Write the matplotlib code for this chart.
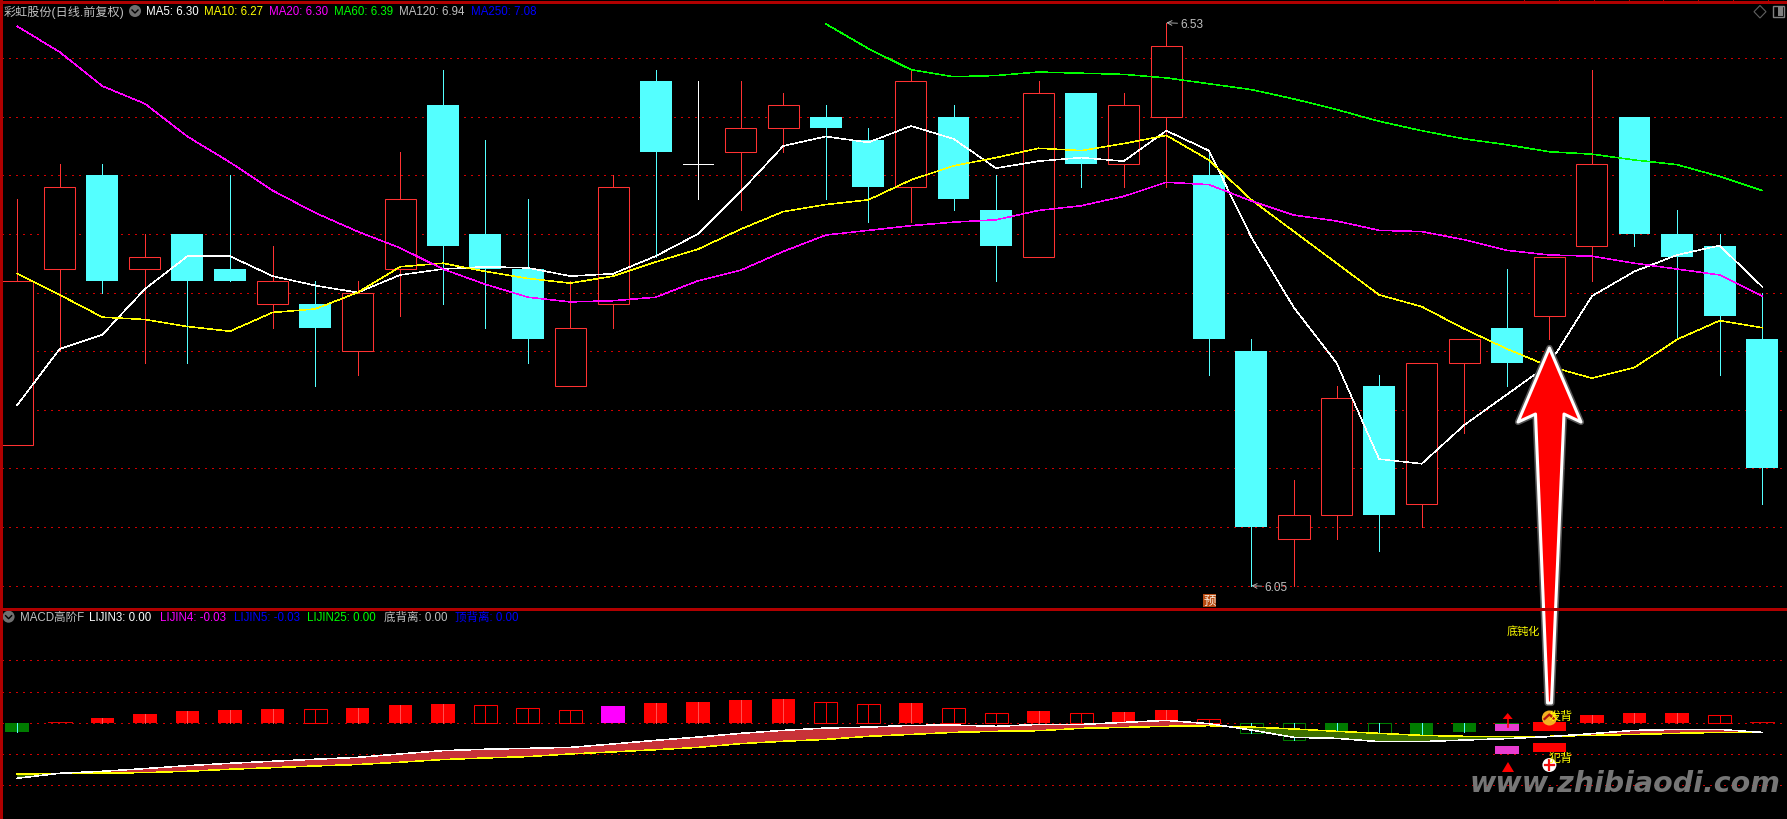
"""Daily candlestick chart with MA lines over a MACD sub-panel, black terminal style."""

import matplotlib
matplotlib.use("Agg")
import matplotlib.pyplot as plt
import numpy as np
from matplotlib.patches import Circle, Polygon, Rectangle

plt.rcParams["font.family"] = ["Liberation Sans", "Noto Sans CJK SC", "DejaVu Sans"]

W, H = 1787, 820
SPLIT_Y = 609.5

# Candles, one per trading day.
OPENS = [6.17, 6.32, 6.40, 6.32, 6.35, 6.32, 6.29, 6.29, 6.25, 6.32, 6.46, 6.35, 6.32, 6.22,
         6.29, 6.48, 6.41, 6.42, 6.44, 6.45, 6.43, 6.39, 6.45, 6.37, 6.33, 6.47, 6.41, 6.45,
         6.40, 6.25, 6.09, 6.11, 6.22, 6.12, 6.24, 6.27, 6.28, 6.34, 6.45, 6.35, 6.34, 6.26]
CLOSES = [6.31, 6.39, 6.31, 6.33, 6.31, 6.31, 6.31, 6.27, 6.30, 6.38, 6.34, 6.32, 6.26, 6.27,
          6.39, 6.42, 6.41, 6.44, 6.46, 6.44, 6.39, 6.48, 6.38, 6.34, 6.47, 6.41, 6.46, 6.51,
          6.26, 6.10, 6.11, 6.21, 6.11, 6.24, 6.26, 6.24, 6.33, 6.41, 6.35, 6.33, 6.28, 6.15]
HIGHS = [6.38, 6.41, 6.41, 6.35, 6.35, 6.40, 6.34, 6.31, 6.31, 6.42, 6.49, 6.43, 6.38, 6.31,
         6.40, 6.49, 6.48, 6.48, 6.47, 6.46, 6.44, 6.49, 6.46, 6.40, 6.48, 6.47, 6.47, 6.53,
         6.42, 6.26, 6.14, 6.22, 6.23, 6.24, 6.26, 6.32, 6.33, 6.49, 6.45, 6.37, 6.35, 6.30]
LOWS = [6.17, 6.25, 6.30, 6.24, 6.24, 6.31, 6.27, 6.22, 6.23, 6.28, 6.29, 6.27, 6.24, 6.22,
        6.27, 6.33, 6.38, 6.37, 6.42, 6.38, 6.36, 6.36, 6.37, 6.31, 6.33, 6.39, 6.39, 6.39,
        6.23, 6.05, 6.05, 6.09, 6.08, 6.10, 6.18, 6.22, 6.26, 6.31, 6.34, 6.26, 6.23, 6.12]

MA5 = [6.204, 6.252, 6.264, 6.303, 6.331, 6.331, 6.314, 6.306, 6.300, 6.315, 6.320, 6.322,
       6.321, 6.314, 6.316, 6.331, 6.350, 6.386, 6.425, 6.433, 6.428, 6.442, 6.431, 6.406,
       6.412, 6.415, 6.412, 6.438, 6.421, 6.347, 6.287, 6.240, 6.158, 6.154, 6.187, 6.213,
       6.239, 6.297, 6.318, 6.332, 6.340, 6.305]
MA10 = [6.316, 6.298, 6.279, 6.277, 6.271, 6.267, 6.283, 6.286, 6.300, 6.322, 6.325, 6.318,
        6.312, 6.308, 6.314, 6.326, 6.337, 6.354, 6.369, 6.375, 6.379, 6.396, 6.408, 6.415,
        6.423, 6.421, 6.427, 6.434, 6.413, 6.379, 6.352, 6.325, 6.298, 6.288, 6.269, 6.252,
        6.237, 6.227, 6.236, 6.260, 6.276, 6.270]
MA20 = [6.527, 6.505, 6.476, 6.461, 6.433, 6.411, 6.387, 6.368, 6.352, 6.338, 6.320, 6.307,
        6.296, 6.292, 6.293, 6.296, 6.310, 6.319, 6.335, 6.349, 6.353, 6.357, 6.360, 6.362,
        6.370, 6.374, 6.382, 6.394, 6.392, 6.378, 6.366, 6.361, 6.353, 6.352, 6.345, 6.336,
        6.332, 6.331, 6.325, 6.320, 6.315, 6.297]
# MA60 only starts at day 19.
MA60_START = 19
MA60 = [6.529, 6.508, 6.490, 6.484, 6.485, 6.488, 6.487, 6.486, 6.483, 6.478, 6.473, 6.465,
        6.456, 6.446, 6.438, 6.431, 6.426, 6.420, 6.418, 6.413, 6.409, 6.399, 6.387]

# MACD panel.
HIST = [-0.0062, 0.0002, 0.0030, 0.0055, 0.0075, 0.0081, 0.0087, 0.0085, 0.0094, 0.0113, 0.0119,
        0.0111, 0.0092, 0.0079, 0.0107, 0.0126, 0.0132, 0.0145, 0.0151, 0.0136, 0.0117, 0.0126,
        0.0092, 0.0060, 0.0075, 0.0060, 0.0068, 0.0081, 0.0023, -0.0066, -0.0109, -0.0098,
        -0.0109, -0.0081, -0.0060, -0.0036, 0.0, 0.0049, 0.0062, 0.0062, 0.0049, 0.0002]
HOLLOW_DAYS = [7, 11, 12, 13, 19, 20, 22, 23, 25, 28, 29, 30, 32, 40]
MAGENTA_DAY = 14
DIF = [-0.0356, -0.0324, -0.0311, -0.0294, -0.0275, -0.0260, -0.0247, -0.0234, -0.0222, -0.0200,
       -0.0179, -0.0170, -0.0164, -0.0158, -0.0136, -0.0113, -0.0092, -0.0068, -0.0049, -0.0034,
       -0.0028, -0.0017, -0.0015, -0.0023, -0.0011, -0.0011, 0.0002, 0.0015, -0.0006, -0.0047,
       -0.0094, -0.0100, -0.0121, -0.0121, -0.0111, -0.0102, -0.0089, -0.0070, -0.0049, -0.0043,
       -0.0043, -0.0062]
DEA = [-0.0330, -0.0324, -0.0322, -0.0320, -0.0311, -0.0298, -0.0288, -0.0277, -0.0268, -0.0253,
       -0.0236, -0.0226, -0.0217, -0.0200, -0.0187, -0.0173, -0.0158, -0.0134, -0.0119, -0.0107,
       -0.0087, -0.0075, -0.0062, -0.0055, -0.0051, -0.0036, -0.0030, -0.0023, -0.0019, -0.0028,
       -0.0040, -0.0055, -0.0068, -0.0081, -0.0087, -0.0087, -0.0087, -0.0081, -0.0075, -0.0068,
       -0.0062, -0.0062]
# Signal blocks as (day, top, bottom).
MAGENTA_BLOCKS = [(35, -0.0009, -0.0053), (35, -0.0149, -0.0200)]
RED_BLOCKS = [(36, 0.0004, -0.0051), (36, -0.0130, -0.0187)]

PRICE_GRID = [6.05, 6.10, 6.15, 6.20, 6.25, 6.30, 6.35, 6.40, 6.45, 6.50]
MACD_GRID = [-0.04, -0.02, 0.0, 0.02, 0.04]

TOP_LABELS = [("MA5: 6.30", 145.7, "#ffffff"), ("MA10: 6.27", 203.6, "#ffff00"),
              ("MA20: 6.30", 268.6, "#ff00ff"), ("MA60: 6.39", 333.6, "#00ff00"),
              ("MA120: 6.94", 399.0, "#c0c0c0"), ("MA250: 7.08", 470.7, "#0000ff")]
SUB_LABELS = [("MACD高阶F", 19.6, "#c0c0c0"), ("LIJIN3: 0.00", 89.3, "#ffffff"),
              ("LIJIN4: -0.03", 159.6, "#ff00ff"), ("LIJIN5: -0.03", 234.0, "#0000ff"),
              ("LIJIN25: 0.00", 307.0, "#00ff00"), ("底背离: 0.00", 384.0, "#c0c0c0"),
              ("顶背离: 0.00", 455.0, "#0000ff")]

UP = "#ff3232"
DOWN = "#54ffff"
GRID = "#d00000"
FRAME = "#b00000"
GREY = "#c0c0c0"
LW = 0.5
MA_LW = 0.38
BOX_LW = 0.75
LABEL_SIZE = 8.3
DAY_W = 42.56
X0 = 17.2


def _panel_axes(fig, top_px, bottom_px, ylim):
    ax = fig.add_axes([0, 1 - bottom_px / H, 1, (bottom_px - top_px) / H])
    ax.set_facecolor("black")
    ax.set_xlim(-X0 / DAY_W, (W - X0) / DAY_W)
    ax.set_ylim(*ylim)
    ax.axis("off")
    return ax


def _grid(ax, levels):
    for level in levels:
        ax.plot([-0.36, 41.6], [level, level], color=GRID, lw=0.72,
                ls=(0, (1.3, 5.7)), antialiased=False, zorder=1)


def _candles(ax):
    for i, (o, c, hi, lo) in enumerate(zip(OPENS, CLOSES, HIGHS, LOWS)):
        if o == c:
            ax.vlines(i, lo, hi, color="white", lw=LW, antialiased=False, zorder=2)
            ax.hlines(c, i - 0.35, i + 0.35, color="white", lw=LW, antialiased=False, zorder=3)
        elif c > o:
            ax.vlines(i, lo, hi, color=UP, lw=LW, antialiased=False, zorder=2)
            ax.bar(i, c - o, 0.73, o, facecolor="black", edgecolor=UP, lw=BOX_LW, zorder=3)
        else:
            ax.vlines(i, lo, hi, color=DOWN, lw=LW, antialiased=False, zorder=2)
            ax.bar(i, o - c, 0.75, c, color=DOWN, lw=0, zorder=3)


def _macd(ax, days):
    for i, v in enumerate(HIST):
        if i == 36:
            continue
        if i == MAGENTA_DAY:
            ax.bar(i, v, 0.55, color="#ff00ff", lw=0, zorder=2)
            continue
        main = "#ff0000" if v > 0 else "#007c00"
        wick = "#ff5050" if v > 0 else DOWN
        if abs(v) <= 0.001:
            ax.hlines(0.0002, i - 0.28, i + 0.28, color="#e00000", lw=LW, antialiased=False, zorder=3)
            continue
        if i in HOLLOW_DAYS:
            ax.bar(i, v, 0.54, facecolor="black", edgecolor=main, lw=BOX_LW, zorder=2)
            wick = main if v > 0 else DOWN
        else:
            ax.bar(i, v, 0.55, color=main, lw=0, zorder=2)
        ax.vlines(i, 0, v, color=wick, lw=LW, antialiased=False, zorder=3)

    dif, dea = np.array(DIF), np.array(DEA)
    ax.fill_between(days, dif, dea, where=dif >= dea, interpolate=True,
                    color="#c83238", lw=0, zorder=4)
    ax.fill_between(days, dif, dea, where=dif < dea, interpolate=True,
                    color="#3f7000", lw=0, zorder=4)
    ax.plot(days, DEA, color="#ffff00", lw=MA_LW, antialiased=False, zorder=5)
    ax.plot(days, DIF, color="#ffffff", lw=MA_LW, antialiased=False, zorder=5)

    for day, top, bottom in MAGENTA_BLOCKS:
        ax.bar(day, top - bottom, 0.55, bottom, color="#e83cd0", lw=0, zorder=6)
    for day, top, bottom in RED_BLOCKS:
        ax.bar(day, top - bottom, 0.78, bottom, color="#ff0000", lw=0, zorder=6)


def _price_marks(ax):
    for day, price, dx in [(27, 6.53, 14), (29, 6.05, 13)]:
        ax.annotate(f"{price:.2f}", xy=(day, price), xytext=(dx, -1), textcoords="offset pixels",
                    color=GREY, fontsize=8.5, va="center", ha="left", zorder=7,
                    arrowprops=dict(arrowstyle="->", color=GREY, lw=0.6, shrinkA=0, shrinkB=0))


def _overlay(fig):
    """Everything drawn on top of the panels, in plain pixel coordinates."""
    ov = fig.add_axes([0, 0, 1, 1])
    ov.set_xlim(0, W)
    ov.set_ylim(H, 0)
    ov.axis("off")
    ov.patch.set_visible(False)

    ov.plot([0, W], [2.5, 2.5], color=FRAME, lw=1.0, antialiased=False)
    ov.plot([0, W], [SPLIT_Y, SPLIT_Y], color=FRAME, lw=0.8, antialiased=False)
    ov.plot([1, 1], [0, H], color=FRAME, lw=0.8, antialiased=False)
    for tick in range(8):
        ov.plot([1523.8 + 34.9 * tick] * 2, [0, 3], color=FRAME, lw=0.5, antialiased=False)

    ov.text(3.5, 12, "彩虹股份(日线.前复权)", color=GREY, fontsize=8.7, va="center")
    for label, x, color in TOP_LABELS:
        ov.text(x, 12, label, color=color, fontsize=LABEL_SIZE, va="center")
    for label, x, color in SUB_LABELS:
        ov.text(x, 617.7, label, color=color, fontsize=LABEL_SIZE, va="center")

    for cx, cy in [(135, 12), (8.6, 617.7)]:
        ov.add_patch(Circle((cx, cy), 6, color="#707070", lw=0))
        ov.plot([cx - 3, cx, cx + 3], [cy - 1, cy + 2, cy - 1], color="black", lw=1)

    ov.add_patch(Polygon([(1760, 6.5), (1766, 12.7), (1760, 19), (1754, 12.7)], fill=False,
                         edgecolor="#606060", lw=0.8))
    ov.add_patch(Rectangle((1773, 7), 11, 11, fill=False, edgecolor="#808080", lw=1))
    ov.add_patch(Rectangle((1778, 8), 5, 9, color="#808080", lw=0))

    ov.add_patch(Rectangle((1203, 595), 13, 13, color="#b84a10", lw=0))
    ov.text(1209.5, 601.5, "预", color="#f5e8d8", fontsize=9, ha="center", va="center")

    # Big hand-drawn style arrow.
    arrow = [(1549.4, 349), (1581, 423), (1564, 415), (1551.5, 704), (1547.5, 704),
             (1535.5, 415), (1518, 423)]
    ov.add_patch(Polygon(arrow, closed=True, facecolor="none", edgecolor="#555555", lw=4.5, joinstyle="round"))
    ov.add_patch(Polygon(arrow, closed=True, facecolor="#ff0000", edgecolor="white", lw=2.2, joinstyle="round"))

    ov.text(1507, 631, "底钝化", color="#ffff00", fontsize=8, va="center")
    ov.text(1548.5, 716.5, "发背", color="#ffff00", fontsize=8.7, va="center")
    ov.text(1548.5, 758.5, "犯背", color="#ffff00", fontsize=8.7, va="center")

    ov.add_patch(Circle((1549.4, 719), 7.5, color="#f4b020", lw=0))
    ov.plot([1544.5, 1549.4, 1554.3], [720, 715.5, 720], color="#b01010", lw=1.6)
    ov.add_patch(Circle((1549.4, 766), 7, color="white", lw=0))
    ov.plot([1544.5, 1554.3], [766, 766], color="#f01010", lw=1.6)
    ov.plot([1549.4, 1549.4], [761, 771], color="#f01010", lw=1.6)

    ov.add_patch(Polygon([(1508, 763), (1514, 773), (1502, 773)], color="#ff0000", lw=0))
    ov.plot([1507.7, 1507.7], [718, 728], color="#ff0000", lw=1.2)
    ov.add_patch(Polygon([(1507.7, 714), (1512.7, 720), (1502.7, 720)], color="#ff0000", lw=0))

    ov.text(1470, 784, "www.zhibiaodi.com", color="#767676", fontsize=20.5, style="italic",
            weight="bold", family="DejaVu Sans", va="center", ha="left")


def main():
    fig = plt.figure(figsize=(W / 100, H / 100), dpi=100, facecolor="black")
    days = np.arange(len(OPENS))

    price_ax = _panel_axes(fig, 3, SPLIT_Y, (6.0306, 6.5477))
    _grid(price_ax, PRICE_GRID)
    _candles(price_ax)
    for series, color in [(MA5, "#ffffff"), (MA10, "#ffff00"), (MA20, "#ff00ff")]:
        price_ax.plot(days, series, color=color, lw=MA_LW, antialiased=False, zorder=4)
    price_ax.plot(days[MA60_START:], MA60, color="#00ff00", lw=MA_LW, antialiased=False, zorder=4)
    _price_marks(price_ax)

    macd_ax = _panel_axes(fig, SPLIT_Y, H, (-0.0617, 0.0732))
    _grid(macd_ax, MACD_GRID)
    _macd(macd_ax, days)

    _overlay(fig)
    fig.savefig("out.png", dpi=100, facecolor="black")


if __name__ == "__main__":
    main()
